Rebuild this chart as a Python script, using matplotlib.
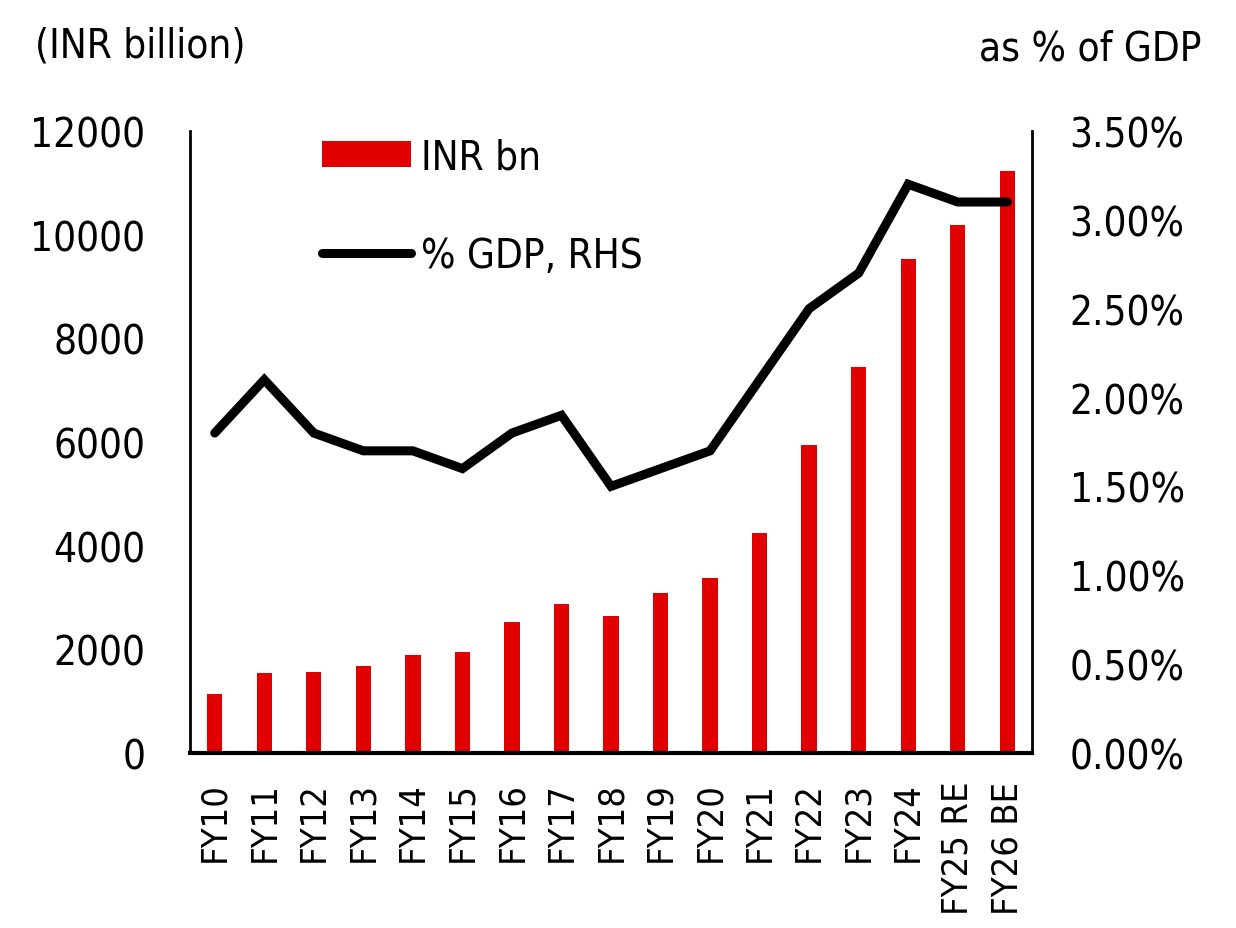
import matplotlib.pyplot as plt
from matplotlib.ticker import FuncFormatter

# data
years = ['FY10', 'FY11', 'FY12', 'FY13', 'FY14', 'FY15', 'FY16', 'FY17', 'FY18',
         'FY19', 'FY20', 'FY21', 'FY22', 'FY23', 'FY24', 'FY25 RE', 'FY26 BE']
inr_bn = [1140, 1550, 1570, 1680, 1890, 1950, 2530, 2870, 2640,
          3090, 3370, 4250, 5950, 7440, 9520, 10190, 11220]
pct_gdp = [1.8, 2.1, 1.8, 1.7, 1.7, 1.6, 1.8, 1.9, 1.5,
           1.6, 1.7, 2.1, 2.5, 2.7, 3.2, 3.1, 3.1]

plt.rcParams['font.family'] = ['DejaVu Sans']
plt.rcParams['font.stretch'] = 'condensed'
fs = 29

fig = plt.figure(figsize=(12.36, 9.29), dpi=100)
ax = fig.add_axes([0.1537, 0.1884, 0.835 - 0.1537, 0.858 - 0.1884])
ax2 = ax.twinx()

x = list(range(len(years)))
bars = ax.bar(x, inr_bn, width=0.31, color='#e00000', label='INR bn', zorder=1)
line, = ax2.plot(x, pct_gdp, color='black', lw=6.5, solid_capstyle='round',
                 solid_joinstyle='miter', label='% GDP, RHS', zorder=3)

ax.set_xlim(-0.5, len(years) - 0.5)
ax.set_ylim(0, 12000)
ax.set_yticks(range(0, 12001, 2000))
ax2.set_ylim(0, 3.5)
ax2.set_yticks([0, 0.5, 1.0, 1.5, 2.0, 2.5, 3.0, 3.5])
ax2.yaxis.set_major_formatter(FuncFormatter(lambda v, p: f'{v:.2f}%'))

ax.set_xticks(x)
ax.set_xticklabels(years, rotation=90)
ax.tick_params(axis='x', length=0, pad=20, labelsize=26)
ax.tick_params(axis='y', length=0, pad=32, labelsize=fs)
ax2.tick_params(axis='y', length=0, pad=27, labelsize=fs)

for a in (ax, ax2):
    a.spines['top'].set_visible(False)
ax.spines['left'].set_linewidth(2)
ax.spines['bottom'].set_linewidth(3)
ax2.spines['right'].set_linewidth(2)
ax2.spines['left'].set_visible(False)
ax2.spines['bottom'].set_visible(False)

ax.legend([bars, line], ['INR bn', '% GDP, RHS'], loc='upper left',
          bbox_to_anchor=(0.157, 0.99), frameon=False, fontsize=fs,
          borderpad=0, borderaxespad=0,
          handlelength=2.2, handleheight=0.6, handletextpad=0.25,
          labelspacing=1.45)

fig.text(0.028, 0.95, '(INR billion)', fontsize=fs, ha='left', va='center')
fig.text(0.972, 0.947, 'as % of GDP', fontsize=fs, ha='right', va='center')

fig.savefig('out.png', dpi=100)
